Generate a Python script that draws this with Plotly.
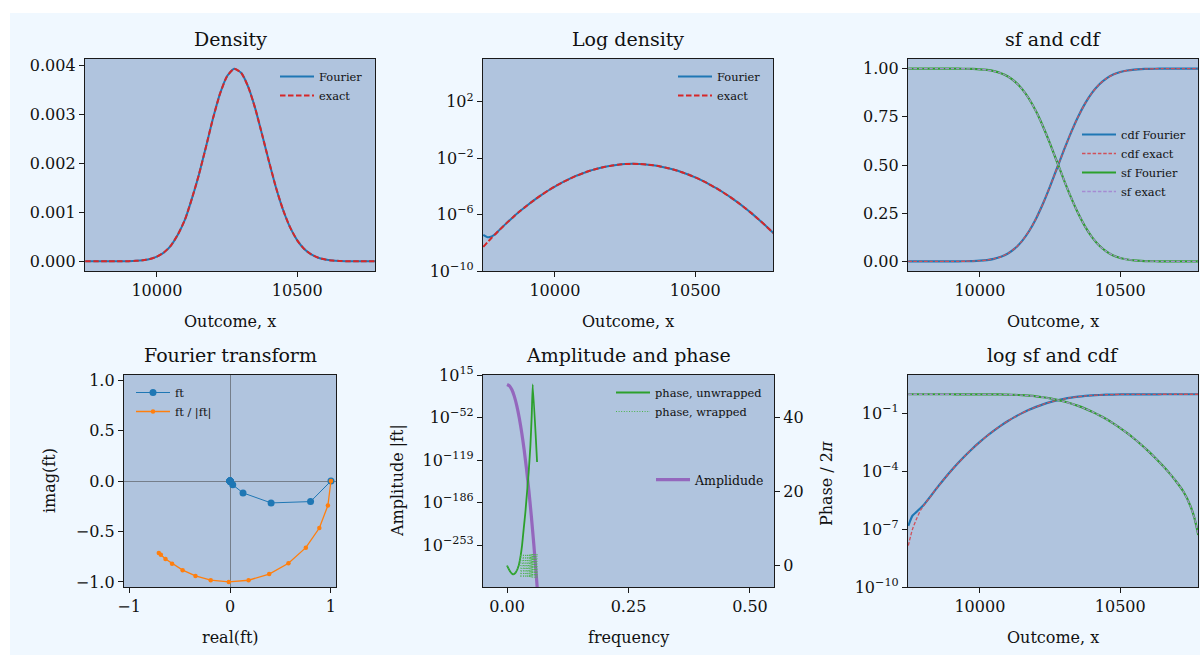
import plotly.graph_objects as go

W, H = 1200, 655
FONT = "DejaVu Serif"
INK = "#1a1a1a"

BLUE = "#1f77b4"
ORANGE = "#ff7f0e"
GREEN = "#2ca02c"
RED = "#d62728"
PURPLE = "#9467bd"
RED_SOFT = "#d0505a"
PURPLE_SOFT = "#a58bd2"

# ---------------------------------------------------------------- data
# outcome grid shared by the density / cdf panels
outcome = [9745, 9760, 9775, 9790, 9800, 9825, 9850, 9875, 9900, 9925, 9950, 9975,
           10000, 10025, 10050, 10075, 10100, 10125, 10150, 10175, 10200, 10225, 10250, 10275,
           10300, 10325, 10350, 10375, 10400, 10425, 10450, 10475, 10500, 10525, 10550, 10575,
           10600, 10625, 10650, 10675, 10700, 10725, 10750, 10765, 10778]

pdf_exact = [5.13e-9, 1.10e-8, 2.26e-8, 4.57e-8, 7.24e-8, 2.19e-7, 6.31e-7, 1.70e-6, 4.27e-6,
             1.02e-5, 2.29e-5, 4.90e-5, 9.77e-5, 1.82e-4, 3.24e-4, 5.50e-4, 8.51e-4, 1.288e-3,
             1.778e-3, 2.344e-3, 2.924e-3, 3.428e-3, 3.784e-3, 3.936e-3, 3.855e-3, 3.573e-3,
             3.133e-3, 2.588e-3, 2.028e-3, 1.496e-3, 1.045e-3, 6.89e-4, 4.30e-4, 2.53e-4,
             1.41e-4, 7.40e-5, 3.68e-5, 1.73e-5, 7.66e-6, 3.21e-6, 1.27e-6, 4.75e-7, 1.68e-7,
             8.79e-8, 4.91e-8]

pdf_fourier = [3.63e-8, 2.51e-8, 2.82e-8, 4.45e-8, 7.24e-8, 2.19e-7, 6.31e-7, 1.70e-6, 4.27e-6,
               1.02e-5, 2.29e-5, 4.90e-5, 9.77e-5, 1.82e-4, 3.24e-4, 5.50e-4, 8.51e-4, 1.288e-3,
               1.778e-3, 2.344e-3, 2.924e-3, 3.428e-3, 3.784e-3, 3.936e-3, 3.855e-3, 3.573e-3,
               3.133e-3, 2.588e-3, 2.028e-3, 1.496e-3, 1.045e-3, 6.89e-4, 4.30e-4, 2.53e-4,
               1.41e-4, 7.40e-5, 3.68e-5, 1.73e-5, 7.66e-6, 3.21e-6, 1.27e-6, 4.75e-7, 1.68e-7,
               8.79e-8, 4.91e-8]

cdf_exact = [1.4e-8, 1.0e-7, 3.6e-7, 1.03e-6, 1.66e-6, 5.23e-6, 1.56e-5, 4.40e-5, 1.165e-4,
             2.94e-4, 7.01e-4, 1.589e-3, 3.364e-3, 6.83e-3, 0.0131, 0.02385, 0.0411, 0.0675,
             0.1052, 0.1563, 0.2215, 0.3000, 0.3891, 0.4845, 0.5793, 0.6693, 0.7505, 0.8197,
             0.8754, 0.9178, 0.9483, 0.9690, 0.98234, 0.99043, 0.99507, 0.99759, 0.99888,
             0.99951, 0.99980, 0.99992, 0.99997, 0.99999, 1.0, 1.0, 1.0]

cdf_fourier = [1.5e-7, 5.0e-7, 8.0e-7, 1.3e-6, 1.8e-6, 5.23e-6, 1.56e-5, 4.40e-5, 1.165e-4,
               2.94e-4, 7.01e-4, 1.589e-3, 3.364e-3, 6.83e-3, 0.0131, 0.02385, 0.0411, 0.0675,
               0.1052, 0.1563, 0.2215, 0.3000, 0.3891, 0.4845, 0.5793, 0.6693, 0.7505, 0.8197,
               0.8754, 0.9178, 0.9483, 0.9690, 0.98234, 0.99043, 0.99507, 0.99759, 0.99888,
               0.99951, 0.99980, 0.99992, 0.99997, 0.99999, 1.0, 1.0, 1.0]

sf_values = [1.0, 1.0, 1.0, 0.999999, 0.999998, 0.999995, 0.999984, 0.999956, 0.999884,
             0.999706, 0.999299, 0.998411, 0.996636, 0.99317, 0.9869, 0.97615, 0.9589, 0.9325,
             0.8948, 0.8437, 0.7785, 0.7000, 0.6109, 0.5155, 0.4207, 0.3307, 0.2495, 0.1803,
             0.1246, 0.0822, 0.0517, 0.0310, 0.01766, 0.00957, 0.00493, 0.00241, 1.117e-3,
             4.92e-4, 2.05e-4, 8.1e-5, 2.9e-5, 9.0e-6, 1.6e-6, 3.5e-7, 5.0e-8]

# first samples of the characteristic function
ft_re = [1.0, 0.798, 0.407, 0.129, 0.027, 0.003, 0.0002, 0.0, 0.0, 0.0, 0.0, 0.0, 0.0, 0.0, 0.0]
ft_im = [0.0, -0.204, -0.217, -0.118, -0.038, -0.0072, -0.0009, -0.0001, 0.0, 0.0, 0.0, 0.0,
         0.0, 0.0, 0.0]
unit_re = [1.0, 0.970, 0.885, 0.751, 0.579, 0.388, 0.184, -0.012, -0.191, -0.342, -0.469,
           -0.574, -0.639, -0.685, -0.705]
unit_im = [0.0, -0.242, -0.466, -0.660, -0.815, -0.922, -0.983, -1.000, -0.982, -0.940,
           -0.883, -0.819, -0.773, -0.730, -0.714]

# amplitude (as log10 |ft|) and phase against frequency
amp_freq = [0, 0.005, 0.01, 0.015, 0.02, 0.025, 0.03, 0.035, 0.04, 0.045, 0.05, 0.055, 0.06, 0.062]
amp_log10 = [0, -2.1, -8.3, -18.7, -33.2, -51.9, -74.7, -101.7, -132.8, -168.1, -207.5,
             -251.1, -298.8, -319.5]

phase_freq = [0, 0.003, 0.006, 0.009, 0.0124, 0.016, 0.0192, 0.024, 0.0275, 0.0309, 0.0343,
              0.0378, 0.0412, 0.0446, 0.0481, 0.0508, 0.0529, 0.0618]
phase_unwrapped = [0, -0.8, -1.5, -2.0, -2.35, -2.1, -1.53, 0.09, 2.34, 5.5, 10.0, 14.5, 19.9,
                   25.3, 32.5, 40.6, 48.9, 28.0]

wrapped_freq = [0, 0.003, 0.006, 0.009, 0.0124, 0.016, 0.0192, 0.024, 0.0275, 0.0284, 0.0284,
                0.0339, 0.0339, 0.0386, 0.0386, 0.0425, 0.0425, 0.0460, 0.0460, 0.0488, 0.0488,
                0.0509, 0.0509, 0.0525, 0.0525, 0.0529, 0.0537, 0.0537, 0.0563, 0.0563, 0.0590,
                0.0590, 0.0617, 0.0617, 0.0618]
phase_wrapped = [0, -0.8, -1.5, -2.0, -2.35, -2.1, -1.53, 0.09, 2.34, 3.14, -3.14, 3.14, -3.14,
                 3.14, -3.14, 3.14, -3.14, 3.14, -3.14, 3.14, -3.14, 3.14, -3.14, 3.14, -3.14,
                 -1.37, -3.14, 3.14, -3.14, 3.14, -3.14, 3.14, -3.14, 3.14, 2.87]

amplitude = [10.0 ** v for v in amp_log10]

# ---------------------------------------------------------------- layout helpers
def px_x(p):
    return p / W


def px_y(p):
    return 1 - p / H


def dom_x(a, b):
    return [px_x(a), px_x(b)]


def dom_y(top, bottom):
    return [px_y(bottom), px_y(top)]


def axis(**kw):
    base = dict(showline=True, linecolor=INK, linewidth=1.3, mirror=True,
                ticks="outside", ticklen=5, tickwidth=1.2, tickcolor=INK,
                showgrid=False, zeroline=False, automargin=False, fixedrange=True,
                tickfont=dict(family=FONT, size=16, color="#111"))
    base.update(kw)
    return base


def sup(exps):
    return ["10<sup>%s</sup>" % (str(e).replace("-", "\u2212")) for e in exps]


X_RANGE = [9744, 10777]
TOP = (59, 271)
BOT = (375, 587)

fig = go.Figure()

# Density
fig.add_trace(go.Scatter(x=outcome, y=pdf_fourier, name="Fourier", mode="lines",
                         line=dict(color=BLUE, width=2, shape="spline", smoothing=0.6),
                         xaxis="x", yaxis="y", legend="legend"))
fig.add_trace(go.Scatter(x=outcome, y=pdf_exact, name="exact", mode="lines",
                         line=dict(color=RED, width=2, dash="5.5px,2.5px", shape="spline", smoothing=0.6),
                         xaxis="x", yaxis="y", legend="legend"))

# Log density
fig.add_trace(go.Scatter(x=outcome, y=pdf_fourier, name="Fourier", mode="lines",
                         line=dict(color=BLUE, width=2, shape="spline", smoothing=0.6),
                         xaxis="x2", yaxis="y2", legend="legend2"))
fig.add_trace(go.Scatter(x=outcome, y=pdf_exact, name="exact", mode="lines",
                         line=dict(color=RED, width=2, dash="5.5px,2.5px", shape="spline", smoothing=0.6),
                         xaxis="x2", yaxis="y2", legend="legend2"))

# sf and cdf (linear and log)
for xa, ya, show, leg in (("x3", "y3", True, "legend3"), ("x6", "y6", False, "legend3")):
    fig.add_trace(go.Scatter(x=outcome, y=cdf_fourier, name="cdf Fourier", mode="lines",
                             line=dict(color=BLUE, width=2.2, shape="spline", smoothing=0.6),
                             xaxis=xa, yaxis=ya, showlegend=show, legend=leg))
    fig.add_trace(go.Scatter(x=outcome, y=cdf_exact, name="cdf exact", mode="lines",
                             line=dict(color=RED_SOFT, width=1.3, dash="3.5px,1.8px",
                                       shape="spline", smoothing=0.6),
                             xaxis=xa, yaxis=ya, showlegend=show, legend=leg))
    fig.add_trace(go.Scatter(x=outcome, y=sf_values, name="sf Fourier", mode="lines",
                             line=dict(color=GREEN, width=2.2, shape="spline", smoothing=0.6),
                             xaxis=xa, yaxis=ya, showlegend=show, legend=leg))
    fig.add_trace(go.Scatter(x=outcome, y=sf_values, name="sf exact", mode="lines",
                             line=dict(color=PURPLE_SOFT, width=1.3, dash="3.5px,1.8px",
                                       shape="spline", smoothing=0.6),
                             xaxis=xa, yaxis=ya, showlegend=show, legend=leg))

# Fourier transform in the complex plane
fig.add_trace(go.Scatter(x=ft_re, y=ft_im, name="ft", mode="lines+markers",
                         line=dict(color=BLUE, width=1), marker=dict(color=BLUE, size=7),
                         xaxis="x4", yaxis="y4", legend="legend4"))
fig.add_trace(go.Scatter(x=unit_re, y=unit_im, name="ft / |ft|", mode="lines+markers",
                         line=dict(color=ORANGE, width=1.3), marker=dict(color=ORANGE, size=4.5),
                         xaxis="x4", yaxis="y4", legend="legend4"))

# Amplitude and phase
fig.add_trace(go.Scatter(x=amp_freq, y=amplitude, name="Amplidude", mode="lines",
                         line=dict(color=PURPLE, width=3.2, shape="spline", smoothing=0.5),
                         xaxis="x5", yaxis="y5", legend="legend6"))
fig.add_trace(go.Scatter(x=phase_freq, y=phase_unwrapped, name="phase, unwrapped", mode="lines",
                         line=dict(color=GREEN, width=1.8, shape="spline", smoothing=0.4),
                         xaxis="x5", yaxis="y7", legend="legend5"))
fig.add_trace(go.Scatter(x=wrapped_freq, y=phase_wrapped, name="phase, wrapped", mode="lines",
                         line=dict(color="#4cb34c", width=1, dash="1px,1.6px"),
                         xaxis="x5", yaxis="y7", legend="legend5"))

# ---------------------------------------------------------------- axes
outcome_ticks = dict(tickvals=[10000, 10500], ticktext=["10000", "10500"])

layout = dict(
    width=W, height=H,
    margin=dict(l=0, r=0, t=0, b=0),
    paper_bgcolor="#f0f8ff",
    plot_bgcolor="#b0c4de",
    hovermode=False,
    font=dict(family=FONT, size=16, color="#111"),

    xaxis=axis(domain=dom_x(85, 375), anchor="y", range=X_RANGE, **outcome_ticks),
    yaxis=axis(domain=dom_y(*TOP), anchor="x", range=[-0.000197, 0.004137],
               tickvals=[0, 0.001, 0.002, 0.003, 0.004],
               ticktext=["0.000", "0.001", "0.002", "0.003", "0.004"]),

    xaxis2=axis(domain=dom_x(483, 773), anchor="y2", range=X_RANGE, **outcome_ticks),
    yaxis2=axis(domain=dom_y(*TOP), anchor="x2", type="log", range=[-10, 5.03],
                tickvals=[1e2, 1e-2, 1e-6, 1e-10], ticktext=sup([2, -2, -6, -10])),

    xaxis3=axis(domain=dom_x(908, 1198), anchor="y3", range=X_RANGE, **outcome_ticks),
    yaxis3=axis(domain=dom_y(*TOP), anchor="x3", range=[-0.05, 1.05],
                tickvals=[0, 0.25, 0.5, 0.75, 1.0],
                ticktext=["0.00", "0.25", "0.50", "0.75", "1.00"]),

    xaxis4=axis(domain=dom_x(124, 336), anchor="y4", range=[-1.05, 1.05],
                tickvals=[-1, 0, 1], ticktext=["\u22121", "0", "1"],
                zeroline=True, zerolinecolor="rgba(70,70,70,0.55)", zerolinewidth=1.3),
    yaxis4=axis(domain=dom_y(*BOT), anchor="x4", range=[-1.05, 1.05],
                tickvals=[-1, -0.5, 0, 0.5, 1],
                ticktext=["\u22121.0", "\u22120.5", "0.0", "0.5", "1.0"],
                zeroline=True, zerolinecolor="rgba(70,70,70,0.55)", zerolinewidth=1.3),

    xaxis5=axis(domain=dom_x(483, 774), anchor="y5", range=[-0.0495, 0.5495],
                tickvals=[0, 0.25, 0.5], ticktext=["0.00", "0.25", "0.50"]),
    yaxis5=axis(domain=dom_y(*BOT), anchor="x5", type="log", range=[-319, 15],
                tickvals=[1e15, 1e-52, 1e-119, 1e-186, 1e-253],
                ticktext=sup([15, -52, -119, -186, -253])),
    yaxis7=axis(anchor="x5", overlaying="y5", side="right", range=[-5.74, 51.45],
                tickvals=[0, 20, 40], ticktext=["0", "20", "40"], mirror=False),

    xaxis6=axis(domain=dom_x(908, 1198), anchor="y6", range=X_RANGE, **outcome_ticks),
    yaxis6=axis(domain=dom_y(*BOT), anchor="x6", type="log", range=[-10, 1.0],
                tickvals=[1e-1, 1e-4, 1e-7, 1e-10], ticktext=sup([-1, -4, -7, -10])),
)


def legend_at(left_px, top_px, size=11.4):
    return dict(x=px_x(left_px), y=px_y(top_px), xanchor="left", yanchor="top",
                bgcolor="rgba(0,0,0,0)", borderwidth=0, itemwidth=34,
                font=dict(family=FONT, size=size, color="#111"),
                tracegroupgap=0)


layout["legend"] = legend_at(275, 62)
layout["legend2"] = legend_at(673, 62)
layout["legend3"] = legend_at(1077, 120)
layout["legend4"] = legend_at(131, 378)
layout["legend5"] = legend_at(611, 378)
layout["legend6"] = legend_at(651, 465, size=12.5)

# white strip around the figure canvas
layout["shapes"] = [
    dict(type="rect", xref="paper", yref="paper", x0=0, x1=px_x(10), y0=0, y1=1,
         fillcolor="white", line=dict(width=0), layer="below"),
    dict(type="rect", xref="paper", yref="paper", x0=0, x1=1, y0=px_y(13), y1=1,
         fillcolor="white", line=dict(width=0), layer="below"),
]


def label(text, x, y, size=16, angle=0):
    return dict(text=text, x=px_x(x), y=px_y(y), xref="paper", yref="paper",
                xanchor="center", yanchor="middle", showarrow=False, textangle=angle,
                font=dict(family=FONT, size=size, color="#111"))


layout["annotations"] = [
    label("Density", 230, 39, 19),
    label("Log density", 628, 39, 19),
    label("sf and cdf", 1053, 39, 19),
    label("Fourier transform", 230, 355, 19),
    label("Amplitude and phase", 628.5, 355, 19),
    label("log sf and cdf", 1053, 355, 19),
    label("Outcome, x", 230, 321),
    label("Outcome, x", 628, 321),
    label("Outcome, x", 1053, 321),
    label("Outcome, x", 1053, 637),
    label("real(ft)", 230, 637),
    label("frequency", 628.5, 637),
    label("imag(ft)", 49, 481, angle=-90),
    label("Amplitude |ft|", 397, 481, angle=-90),
    label("Phase / 2<i>\u03c0</i>", 826, 484, angle=-90),
]

fig.update_layout(**layout)
fig.write_html("out.html")
